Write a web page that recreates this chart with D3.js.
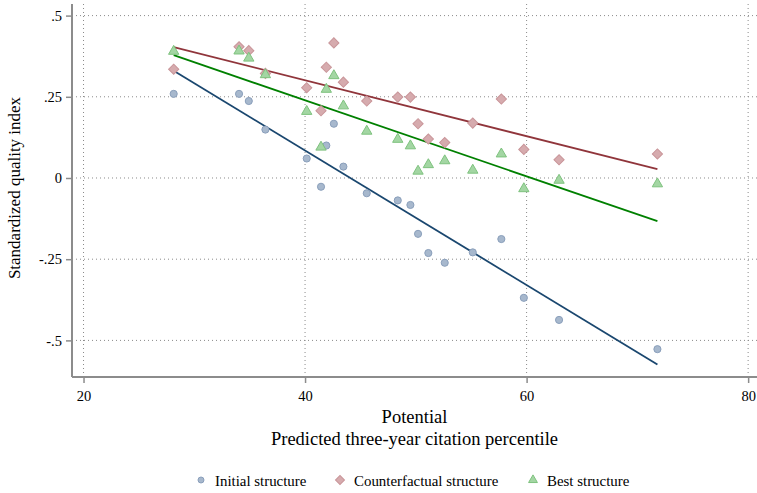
<!DOCTYPE html>
<html><head><meta charset="utf-8">
<script src="https://cdn.jsdelivr.net/npm/d3@7"></script>
<style>body{margin:0;background:#fff;} svg{display:block;} text{font-family:"Liberation Serif","Times New Roman",serif;fill:#000;}</style>
</head><body><svg id="c" width="757" height="493"></svg>
<script>
const potential = [28.14, 34.04, 34.92, 36.42, 40.15, 41.44, 41.92, 42.6, 43.46, 45.57, 48.37, 49.51, 50.2, 51.13, 52.61, 55.14, 57.72, 59.75, 62.93, 71.81];
const initialQ = [0.259, 0.259, 0.237, 0.149, 0.060, -0.027, 0.100, 0.167, 0.035, -0.047, -0.069, -0.083, -0.172, -0.231, -0.261, -0.229, -0.188, -0.369, -0.437, -0.527];
const counterQ = [0.335, 0.404, 0.392, 0.322, 0.278, 0.207, 0.341, 0.416, 0.295, 0.237, 0.249, 0.249, 0.167, 0.120, 0.109, 0.169, 0.243, 0.088, 0.056, 0.074];
const bestQ = [0.390, 0.391, 0.369, 0.318, 0.205, 0.095, 0.273, 0.315, 0.222, 0.144, 0.119, 0.099, 0.021, 0.041, 0.053, 0.024, 0.074, -0.033, -0.007, -0.018];
const fitX = [28.14, 71.81];
const fitInitial = [0.330, -0.574];
const fitCounter = [0.403, 0.027];
const fitBest = [0.378, -0.133];
const xTicks = [20, 40, 60, 80];
const yTicks = [0.5, 0.25, 0, -0.25, -0.5];
const yTickLabels = [".5", ".25", "0", "-.25", "-.5"];
const seriesNames = ["Initial structure", "Counterfactual structure", "Best structure"];

const svg = d3.select("#c");
const x = d3.scaleLinear().domain([18.96, 80.8]).range([72, 757]);
const y = d3.scaleLinear().domain([-0.6127, 0.5357]).range([377, 4]);

const gridColor = "#8a8a8a";
svg.append("g").selectAll("line").data(yTicks).join("line")
  .attr("x1", 72).attr("x2", 757).attr("y1", d => y(d)).attr("y2", d => y(d))
  .attr("stroke", gridColor).attr("stroke-width", 1).attr("stroke-dasharray", "1,3");
svg.append("g").selectAll("line").data(xTicks).join("line")
  .attr("y1", 4).attr("y2", 377).attr("x1", d => x(d)).attr("x2", d => x(d))
  .attr("stroke", gridColor).attr("stroke-width", 1).attr("stroke-dasharray", "1,3");

const axisColor = "#8c8c8c";
const yAxis = d3.axisLeft(y).tickValues(yTicks).tickFormat((d, i) => yTickLabels[i]).tickSize(6).tickPadding(4);
const gy = svg.append("g").attr("transform", "translate(72,0)").call(yAxis);
const xAxis = d3.axisBottom(x).tickValues(xTicks).tickSize(6).tickPadding(8);
const gx = svg.append("g").attr("transform", "translate(0,377)").call(xAxis);
[gy, gx].forEach(g => {
  g.attr("font-family", "Liberation Serif");
  g.select(".domain").attr("stroke", axisColor).attr("stroke-width", 2);
  g.selectAll(".tick line").attr("stroke", axisColor).attr("stroke-width", 1.5);
  g.selectAll(".tick text").attr("font-family", "Liberation Serif").attr("font-size", 14.5).attr("fill", "#000");
});
gy.select(".domain").attr("d", "M0,4V377");
gx.select(".domain").attr("d", "M72,0H757");

const fits = [[fitInitial, "#1a476f"], [fitCounter, "#90353b"], [fitBest, "#008000"]];
fits.forEach(([vals, col]) => {
  svg.append("line").attr("x1", x(fitX[0])).attr("y1", y(vals[0]))
    .attr("x2", x(fitX[1])).attr("y2", y(vals[1]))
    .attr("stroke", col).attr("stroke-width", 1.8);
});

const circ = d3.symbol().type(d3.symbolCircle).size(40);
const diam = d3.symbol().type(d3.symbolSquare).size(52);
const tri = d3.symbol().type(d3.symbolTriangle).size(46);
const styles = [
  {vals: initialQ, sym: circ, rot: 0, fill: "#a7b8cd", stroke: "#8a9fbb"},
  {vals: counterQ, sym: diam, rot: 45, fill: "#d6abae", stroke: "#c99599"},
  {vals: bestQ, sym: tri, rot: 0, fill: "#a3d6a3", stroke: "#7ec27e"}
];
styles.forEach(s => {
  svg.append("g").selectAll("path").data(potential).join("path")
    .attr("d", s.sym())
    .attr("transform", (d, i) => `translate(${x(d)},${y(s.vals[i])}) rotate(${s.rot})`)
    .attr("fill", s.fill).attr("stroke", s.stroke).attr("stroke-width", 1);
});

svg.append("text").attr("transform", "translate(19.5,188) rotate(-90)").attr("text-anchor", "middle")
  .attr("font-size", 17).text("Standardized quality index");
svg.append("text").attr("x", 414.5).attr("y", 423).attr("text-anchor", "middle").attr("font-size", 18.5).text("Potential");
svg.append("text").attr("x", 414.5).attr("y", 445).attr("text-anchor", "middle").attr("font-size", 18.5).text("Predicted three-year citation percentile");

const legX = [201, 340, 533];
const legSyms = [d3.symbol().type(d3.symbolCircle).size(28), d3.symbol().type(d3.symbolSquare).size(40), d3.symbol().type(d3.symbolTriangle).size(34)];
seriesNames.forEach((n, i) => {
  svg.append("path").attr("d", legSyms[i]()).attr("transform", `translate(${legX[i]},480) rotate(${styles[i].rot})`)
    .attr("fill", styles[i].fill).attr("stroke", styles[i].stroke);
  svg.append("text").attr("x", legX[i] + 14).attr("y", 486).attr("font-size", 14.9).text(n);
});
</script></body></html>
